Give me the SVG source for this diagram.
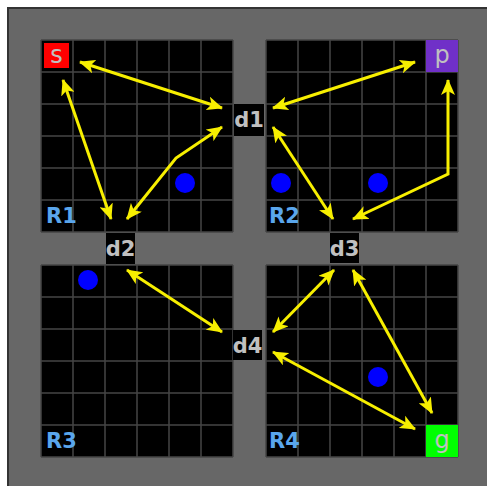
<svg xmlns="http://www.w3.org/2000/svg" xmlns:xlink="http://www.w3.org/1999/xlink" width="487" height="486" viewBox="0 0 487 486">
<style>
.grid{fill:none;stroke:#454545;stroke-width:1.5}
.lbl{font-family:"DejaVu Sans","Liberation Sans",sans-serif;font-size:21px;font-weight:bold;fill:#5aa6ec}
.dl{font-family:"DejaVu Sans","Liberation Sans",sans-serif;font-size:21px;font-weight:bold;fill:#c0c0c0;text-anchor:middle}
.cl{font-family:"DejaVu Sans","Liberation Sans",sans-serif;font-size:24px;fill:#c0c0c0;text-anchor:middle}
.dbox{fill:#000}
.obs{fill:#0000ff}
.arr{fill:none;stroke:#f7ef00;stroke-width:3;marker-start:url(#ah);marker-end:url(#ah)}
</style>
<defs>
<marker id="ah" viewBox="0 0 16 14" refX="15" refY="7" markerWidth="16" markerHeight="14" markerUnits="userSpaceOnUse" orient="auto-start-reverse"><path d="M0,0 L16,7 L0,14 L4,7 Z" fill="#f7ef00"/></marker>
<g id="room">
<rect x="0" y="0" width="192" height="192" fill="#000"/>
<path class="grid" d="M0,0V192M32,0V192M64,0V192M96,0V192M128,0V192M160,0V192M192,0V192M0,0H192M0,32H192M0,64H192M0,96H192M0,128H192M0,160H192M0,192H192"/>
</g>
</defs>
<rect x="0" y="0" width="487" height="486" fill="#fff"/>
<rect x="8" y="8" width="490" height="490" fill="#676767" stroke="#333" stroke-width="2"/>

<g id="R1"><use xlink:href="#room" x="41" y="40"/><circle class="obs" cx="185" cy="183" r="10"/><text class="lbl" x="46" y="223">R1</text></g>
<g id="R2"><use xlink:href="#room" x="266" y="40"/><circle class="obs" cx="281" cy="183" r="10"/><circle class="obs" cx="378" cy="183" r="10"/><text class="lbl" x="269" y="223">R2</text></g>
<g id="R3"><use xlink:href="#room" x="41" y="265"/><circle class="obs" cx="88" cy="280" r="10"/><text class="lbl" x="46" y="448">R3</text></g>
<g id="R4"><use xlink:href="#room" x="266" y="265"/><circle class="obs" cx="378" cy="377" r="10"/><text class="lbl" x="269" y="448">R4</text></g>

<g id="s"><rect x="44" y="43" width="25" height="25" fill="#ff0000"/><text class="cl" x="56.5" y="63">s</text></g>
<g id="p"><rect x="426" y="40" width="32" height="32" fill="#7030c8"/><text class="cl" x="442" y="63">p</text></g>
<g id="g"><rect x="426" y="425" width="32" height="32" fill="#00ff00"/><text class="cl" x="442" y="448">g</text></g>

<g id="d1"><rect class="dbox" x="234" y="104" width="30" height="32"/><text class="dl" x="249" y="127">d1</text></g>
<g id="d2"><rect class="dbox" x="106" y="233" width="29" height="31"/><text class="dl" x="120.5" y="256">d2</text></g>
<g id="d3"><rect class="dbox" x="330" y="233" width="29" height="30"/><text class="dl" x="344.5" y="256">d3</text></g>
<g id="d4"><rect class="dbox" x="233" y="330" width="29" height="30"/><text class="dl" x="247.5" y="353">d4</text></g>

<g id="connectors">
<path class="arr" d="M80,62 L222,108"/>
<path class="arr" d="M63,80 L111,219"/>
<path class="arr" d="M127,219 L176,158 L222,127"/>
<path class="arr" d="M273,108 L415,62"/>
<path class="arr" d="M273,127 L333,219"/>
<path class="arr" d="M448,80 L448,174 L353,219"/>
<path class="arr" d="M127,270 L222,332"/>
<path class="arr" d="M334,270 L273,332"/>
<path class="arr" d="M353,270 L432,413"/>
<path class="arr" d="M273,352 L415,429"/>
</g>
</svg>
